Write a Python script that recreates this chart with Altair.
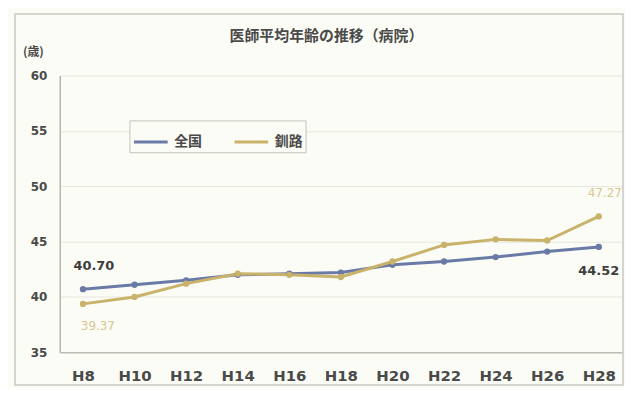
import altair as alt
import pandas as pd

title_text = "医師平均年齢の推移（病院）"
years = ["H8", "H10", "H12", "H14", "H16", "H18", "H20", "H22", "H24", "H26", "H28"]
zenkoku = [40.70, 41.1, 41.5, 42.0, 42.1, 42.2, 42.9, 43.2, 43.6, 44.1, 44.52]
kushiro = [39.37, 40.0, 41.2, 42.1, 42.0, 41.8, 43.2, 44.7, 45.2, 45.1, 47.27]
series = ["全国", "釧路"]
colors = ["#6a7aa6", "#c9b26a"]
y_ticks = [35, 40, 45, 50, 55, 60]

rows = []
for s, vals in zip(series, [zenkoku, kushiro]):
    for i, (yr, v) in enumerate(zip(years, vals)):
        rows.append({"年": yr, "系列": s, "値": v, "ラベル": f"{v:.2f}", "idx": i})
df = pd.DataFrame(rows)

CJK = "Noto Sans CJK JP"
LAT = "DejaVu Sans"

x_enc = alt.X("年:N", sort=years,
              scale=alt.Scale(type="point", padding=0.45),
              axis=alt.Axis(title=None, labelAngle=0, labelFont=LAT, labelFontSize=15,
                            labelFontWeight="bold", labelColor="#4a4a4a", labelPadding=16,
                            ticks=False, domainColor="#bdbdb5", domainWidth=1.5, grid=False))
y_enc = alt.Y("値:Q", scale=alt.Scale(domain=[35, 60], nice=False, zero=False),
              axis=alt.Axis(values=y_ticks, title="(歳)", titleAngle=0, titleX=-27, titleY=-24,
                            titleAlign="center", titleBaseline="middle", titleFont=CJK,
                            titleFontSize=12, titleFontWeight="bold", titleColor="#4a4a4a",
                            labelFont=LAT, labelFontSize=12, labelFontWeight="bold",
                            labelColor="#4a4a4a", labelPadding=13, ticks=False,
                            domainColor="#b5b5ad", domainWidth=1.5,
                            grid=True, gridColor="#e6e6de", gridWidth=1))
color_enc = alt.Color("系列:N", scale=alt.Scale(domain=series, range=colors),
                      legend=alt.Legend(title=None, orient="none", legendX=70, legendY=45,
                                        direction="horizontal", symbolType="stroke",
                                        symbolStrokeWidth=3, symbolSize=1150,
                                        labelFont=CJK, labelFontSize=14, labelFontWeight="bold",
                                        labelColor="#4a4a4a", strokeColor="#c4c4bc",
                                        padding=3, columnPadding=26, labelOffset=5,
                                        fillColor="#fcfcf6"))

base = alt.Chart(df)

frame = alt.Chart(pd.DataFrame({"a": [0]})).mark_rect(
    filled=False, stroke="#c8c8c0", strokeWidth=1.5
).encode(x=alt.value(-45), x2=alt.value(566), y=alt.value(-62), y2=alt.value(311))

title = alt.Chart(pd.DataFrame({"t": [title_text]})).mark_text(
    font=CJK, fontSize=15, fontWeight="bold", color="#4a4a4a", align="center",
    baseline="middle"
).encode(x=alt.value(268), y=alt.value(-40), text="t:N")

lines = base.mark_line(strokeWidth=3).encode(x=x_enc, y=y_enc, color=color_enc,
                                               order="idx:Q")
points = base.mark_point(filled=True, size=40, opacity=1).encode(
    x=x_enc, y=y_enc, color=alt.Color("系列:N", scale=alt.Scale(domain=series, range=colors),
                                      legend=None))

def lab(s, i, dx, dy, color, size, weight):
    return base.transform_filter(
        (alt.datum["系列"] == s) & (alt.datum.idx == i)
    ).mark_text(dx=dx, dy=dy, color=color, fontSize=size, fontWeight=weight,
                font=LAT).encode(x=x_enc, y=y_enc, text="ラベル:N")

labels = [
    lab("全国", 0, 11, -23, "#3d3d3d", 13, "bold"),
    lab("釧路", 0, 15, 22, "#d6c890", 12, "normal"),
    lab("全国", 10, 0, 24, "#3d3d3d", 13, "bold"),
    lab("釧路", 10, 6, -24, "#d6c890", 12, "normal"),
]

chart = alt.layer(frame, title, lines, points, *labels).properties(
    width=565, height=278,
    autosize=alt.AutoSizeParams(type="none"),
    padding={"left": 52, "top": 67, "right": 3, "bottom": 35},
    background="#fcfcf6",
).configure_view(stroke=None)

chart.save("out.html", embed_options={"renderer": "svg", "actions": False})
